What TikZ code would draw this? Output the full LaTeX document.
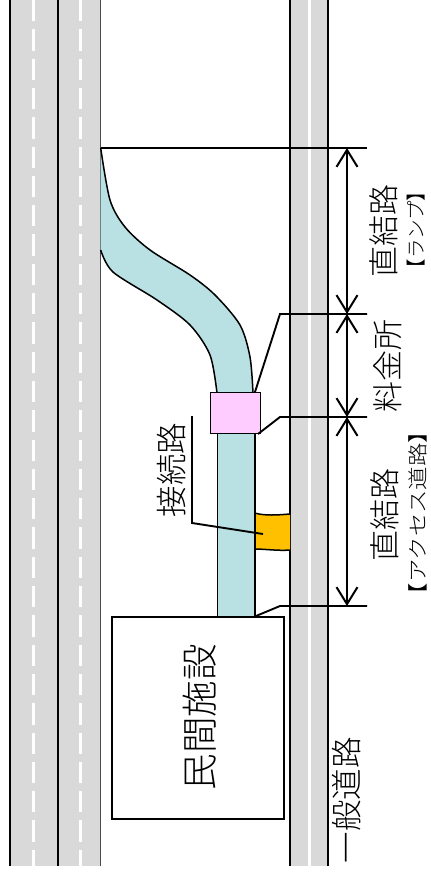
\documentclass[tikz,border=0pt]{standalone}
\usepackage{fontspec}
\setmainfont{Noto Sans CJK JP Light}
\usetikzlibrary{arrows.meta}
\definecolor{roadgray}{HTML}{D9D9D9}
\definecolor{rampblue}{HTML}{B9E0E3}
\definecolor{tollpink}{HTML}{FFCCFF}
\definecolor{linkorange}{HTML}{FFC000}
\tikzset{
  roadline/.style={black,line width=1.9bp},
  edgeline/.style={black,line width=1.5bp},
  leader/.style={black,line width=1.9bp,line join=miter},
  dimline/.style={black,line width=2bp,{Straight Barb[length=17bp,width=21bp]}-{Straight Barb[length=17bp,width=21bp]}},
  lab/.style={rotate=90,inner sep=0pt,anchor=center},
  box/.style={draw=black,line width=1.5bp,inner sep=0pt,minimum width=0pt},
}
\begin{document}
\begin{tikzpicture}[x=1bp,y=-1bp]
\path[use as bounding box,fill=white] (0,0) rectangle (430,872);
% roads
\fill[roadgray] (10,0) rectangle (100.5,865.5);
\fill[roadgray] (290,0) rectangle (328,865.5);
\fill[white] (308,0) rectangle (311,865.5);
\foreach \xx in {33.3,80.3}{
  \draw[white,line width=2.4bp,dash pattern=on 21.3bp off 8bp] (\xx,0) -- (\xx,865.5);
}
\foreach \xx in {10,58}{\draw[roadline] (\xx,0) -- (\xx,865.5);}
\draw[black!70,line width=1.5bp] (100.5,0) -- (100.5,865.5);
\foreach \xx in {290,328}{\draw[roadline] (\xx,0) -- (\xx,865.5);}
% ramp
\fill[rampblue] plot[smooth,tension=0.5] coordinates {(100.7,148) (110,200) (125,227) (150,250) (190,275) (215,295) (240,325) (250,357) (253,393)}
  -- (217,393)
  -- plot[smooth,tension=0.5] coordinates {(217,393) (210,355) (190,325) (157,300) (113,272) (100.7,250)} -- cycle;
\draw[edgeline] plot[smooth,tension=0.5] coordinates {(100.7,148) (110,200) (125,227) (150,250) (190,275) (215,295) (240,325) (250,357) (253,393)};
\draw[edgeline] plot[smooth,tension=0.5] coordinates {(217,393) (210,355) (190,325) (157,300) (113,272) (100.7,250)};
% connection road and side link
\fill[linkorange] (254.5,513) .. controls (265,516) and (278,515) .. (290,514) -- (290,550) .. controls (278,551) and (265,549) .. (254.5,549) -- cycle;
\draw[edgeline] (254.5,513) .. controls (265,516) and (278,515) .. (290,514);
\draw[edgeline] (254.5,549) .. controls (265,549) and (278,551) .. (290,550);
\node[box,fill=rampblue,minimum width=37.5bp,minimum height=185bp,anchor=north west] (road) at (216.5,432) {};
\node[box,fill=tollpink,minimum width=50bp,minimum height=41bp,anchor=north west] (toll) at (209.5,391.5) {};
\node[draw=black,line width=1.7bp,fill=white,inner sep=0pt,minimum width=172bp,minimum height=202bp,anchor=north west] (facility) at (111,616) {};
% dimension lines
\coordinate (a0) at (100.5,148);
\coordinate (a1) at (367,148);
\coordinate (b0) at (255,392);
\coordinate (b1) at (280,314);
\coordinate (b2) at (367,314);
\coordinate (c0) at (258,434);
\coordinate (c1) at (280,417);
\coordinate (c2) at (367,417);
\coordinate (d0) at (256,616);
\coordinate (d1) at (280,606);
\coordinate (d2) at (367,606);
\coordinate (t0) at (347,148);
\coordinate (t1) at (347,314);
\coordinate (t2) at (347,417);
\coordinate (t3) at (347,606);
\draw[black,line width=2.6bp] (a0) -- (a1);
\draw[leader] (b0) -- (b1) -- (b2);
\draw[leader] (c0) -- (c1) -- (c2);
\draw[leader] (d0) -- (d1) -- (d2);
\draw[dimline] (t0) -- (t1);
\draw[dimline] (t1) -- (t2);
\draw[dimline] (t2) -- (t3);
% labels
\node[lab,font=\fontsize{31bp}{31bp}\selectfont] (ramplab) at (384,231) {直結路};
\node[lab,font=\fontsize{19.5bp}{19.5bp}\selectfont] (rampsub) at (416,230) {【ランプ】};
\node[lab,font=\fontsize{31bp}{31bp}\selectfont] (tolllab) at (388,366) {料金所};
\node[lab,font=\fontsize{31bp}{31bp}\selectfont] (acclab) at (385,515) {直結路};
\node[lab,font=\fontsize{20bp}{20bp}\selectfont] (accsub) at (418,513) {\scalebox{1.17}[1]{【アクセス道路】}};
\node[lab,font=\fontsize{31.5bp}{31.5bp}\selectfont] (linklab) at (172,470) {接続路};
\node[lab,font=\fontsize{36.5bp}{36.5bp}\selectfont] (faclab) at (200,717) {民間施設};
\node[lab,font=\fontsize{31.5bp}{31.5bp}\selectfont] (genlab) at (347,800) {一般道路};
% leader for connection road
\coordinate (e0) at (192,416);
\coordinate (e1) at (192,523);
\coordinate (e2) at (263,534);
\draw[leader] (e0) -- (e1) -- (e2);
\end{tikzpicture}
\end{document}
